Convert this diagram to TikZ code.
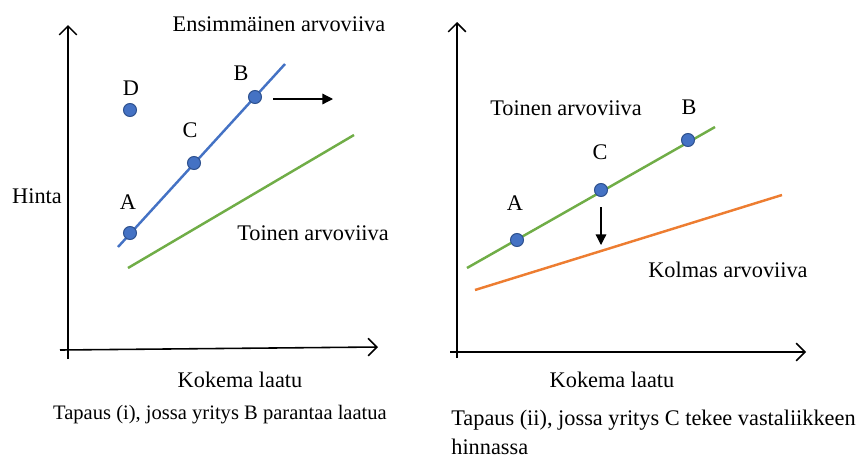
\documentclass[tikz,border=0pt]{standalone}
\usepackage{fontspec}
\setmainfont{Liberation Serif}
\newfontfamily\timesfont{Liberation Serif}
\usetikzlibrary{arrows.meta}
\definecolor{valblue}{HTML}{4472C4}
\definecolor{valedge}{HTML}{2F528F}
\definecolor{valgreen}{HTML}{70AD47}
\definecolor{valorange}{HTML}{ED7D31}
\tikzset{
  firm/.style={circle, draw=valedge, fill=valblue, line width=0.6pt,
               inner sep=0pt, minimum size=0.26cm},
  lbl/.style={font=\timesfont\fontsize{12.7}{16.5}\selectfont, inner sep=0pt},
  caption/.style={font=\timesfont\fontsize{#1}{16.5}\selectfont, inner sep=0pt},
  caption/.default=12.7,
  vline/.style={line width=1.4pt, draw=#1},
  vline/.default=valblue,
  axis/.style={-{Straight Barb[length=5pt, width=10pt]}, line width=0.9pt},
  arr/.style={-{Triangle[length=6pt, width=6pt]}, line width=0.7pt},
}

\begin{document}
\begin{tikzpicture}[x=0.02cm, y=-0.02cm]
  \useasboundingbox (0,0) rectangle (862,457);

  % Case (i) -- axes
  \coordinate (lorig) at (68,359);
  \coordinate (ltop) at (68,25);
  \coordinate (lxs) at (60,350);
  \coordinate (lxe) at (378,347);
  \draw[axis] (lorig) -- (ltop);
  \draw[axis] (lxs) -- (lxe);

  % Case (i) -- value lines
  \coordinate (blue1) at (118,247);
  \coordinate (blue2) at (285,64);
  \coordinate (green1) at (128,268);
  \coordinate (green2) at (354,135);
  \draw[vline=valblue] (blue1) -- (blue2);
  \draw[vline=valgreen] (green1) -- (green2);

  % Case (i) -- firms
  \node[firm] (A1) at (130,233) {};
  \node[firm] (C1) at (194,163) {};
  \node[firm] (B1) at (255,97) {};
  \node[firm] (D1) at (130,110) {};
  \node[lbl] (labA1) at (128,202) {A};
  \node[lbl] (labC1) at (190,130) {C};
  \node[lbl] (labB1) at (241,73) {B};
  \node[lbl] (labD1) at (131,88) {D};

  % B moves right
  \coordinate (mvs) at (273,99);
  \coordinate (mve) at (333,99);
  \draw[arr] (mvs) -- (mve);

  % Case (i) -- texts
  \node[lbl] (hinta) at (37,196) {Hinta};
  \node[lbl] (first) at (279,24) {Ensimmäinen arvoviiva};
  \node[lbl] (secondL) at (313,233) {Toinen arvoviiva};
  \node[lbl] (xlabL) at (240,380) {Kokema laatu};
  \node[caption=11.7] (capL) at (220,415) {Tapaus (i), jossa yritys B parantaa laatua};

  % Case (ii) -- axes
  \coordinate (rorig) at (457,358);
  \coordinate (rtop) at (457,22);
  \coordinate (rxs) at (450,352);
  \coordinate (rxe) at (806,352);
  \draw[axis] (rorig) -- (rtop);
  \draw[axis] (rxs) -- (rxe);

  % Case (ii) -- value lines
  \coordinate (green3) at (467,268);
  \coordinate (green4) at (715,127);
  \coordinate (orange1) at (475,290);
  \coordinate (orange2) at (782,195);
  \draw[vline=valgreen] (green3) -- (green4);
  \draw[vline=valorange] (orange1) -- (orange2);

  % Case (ii) -- firms
  \node[firm] (A2) at (517,240) {};
  \node[firm] (C2) at (601,190) {};
  \node[firm] (B2) at (688,140) {};
  \node[lbl] (labA2) at (515,203) {A};
  \node[lbl] (labC2) at (600,152) {C};
  \node[lbl] (labB2) at (689,107) {B};

  % C cuts its price
  \coordinate (cuts) at (601,207);
  \coordinate (cute) at (601,245);
  \draw[arr] (cuts) -- (cute);

  % Case (ii) -- texts
  \node[lbl] (secondR) at (566,108) {Toinen arvoviiva};
  \node[lbl] (third) at (728,270) {Kolmas arvoviiva};
  \node[lbl] (xlabR) at (612,380) {Kokema laatu};
  \node[caption, anchor=west, align=left] (capR) at (451,432)
    {Tapaus (ii), jossa yritys C tekee vastaliikkeen\\hinnassa};
\end{tikzpicture}
\end{document}
